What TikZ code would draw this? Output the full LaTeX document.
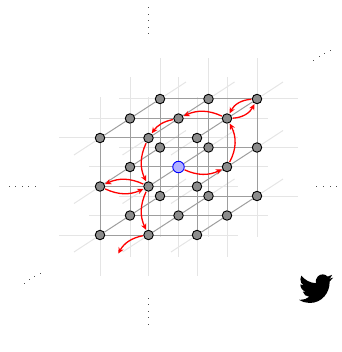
\documentclass[tikz,border=0pt]{standalone}
\usetikzlibrary{arrows.meta,backgrounds,calc,svg.path}
\tikzset{
  x=1pt,y=-1pt,
  site/.style={circle,draw=black,fill=black!45,line width=0.9pt,minimum size=9.5pt,inner sep=0pt},
  centre/.style={circle,draw=blue,fill=blue!30!white,line width=0.9pt,minimum size=11.5pt,inner sep=0pt},
  bond/.style={draw=black!38,line width=1pt},
  stub/.style={draw=black!10,line width=1pt},
  hop/.style={draw=red,line width=1.3pt,-{Stealth[length=6pt,width=5.5pt]},shorten >=0.5pt,shorten <=0.5pt},
  speck/.style={fill=black!70,inner sep=0pt,minimum size=0.9pt,rectangle},
}
\begin{document}
\begin{tikzpicture}
\useasboundingbox (0,0) rectangle (341,352);
% lattice sites: i along x, j along height, k along depth
\foreach \i in {0,1,2}{\foreach \j in {0,1,2}{\foreach \k in {0,1,2}{
  \pgfmathsetmacro\px{100+48.5*\i+30*\k}
  \pgfmathsetmacro\py{235-48.5*\j-19.5*\k}
  \ifnum\i\j\k=111
    \node[centre] (n\i\j\k) at (\px,\py) {};
  \else
    \node[site] (n\i\j\k) at (\px,\py) {};
  \fi
}}}
\begin{pgfonlayer}{background}
\foreach \a in {0,1,2}{\foreach \b in {0,1,2}{
  % along x
  \draw[stub] ($(n0\a\b)+(-41,0)$) -- (n0\a\b);
  \draw[stub] ($(n2\a\b)+(41,0)$) -- (n2\a\b);
  % along height
  \draw[stub] ($(n\a0\b)+(0,41)$) -- (n\a0\b);
  \draw[stub] ($(n\a2\b)+(0,-41)$) -- (n\a2\b);
  % along depth
  \draw[stub] ($(n\a\b0)+(-26,17)$) -- (n\a\b0);
  \draw[stub] ($(n\a\b2)+(26,-17)$) -- (n\a\b2);
}}
\foreach \a in {0,1,2}{\foreach \b in {0,1,2}{
  \draw[bond] (n0\a\b) -- (n2\a\b);
  \draw[bond] (n\a0\b) -- (n\a2\b);
  \draw[bond] (n\a\b0) -- (n\a\b2);
}}
\end{pgfonlayer}
% free end of the last hop
\coordinate (free) at (118,254);
\draw[hop] (n121) to[bend right=22] (n120);
\draw[hop] (n120) to[bend right=25] (n110);
\draw[hop] (n110) to[bend right=25] (n010);
\draw[hop] (n010) to[bend right=25] (n110);
\draw[hop] (n110) to[bend right=25] (n100);
\draw[hop] (n100) to[bend right=25] (free);
\draw[hop] (n111) to[bend right=25] (n211);
\draw[hop] (n211) to[bend right=28] (n221);
\draw[hop] (n221) to[bend right=30] (n222);
\draw[hop] (n222) to[bend right=30] (n221);
\draw[hop] (n221) to[bend right=25] (n121);
% ellipsis marks
\foreach \t in {7.7,14.3,20.7,27,33.3}{\node[speck] at (148.5,\t) {};}
\foreach \t in {298.3,304.7,311,317.7,324}{\node[speck] at (148.5,\t) {};}
\foreach \t in {9.7,15.7,22.3,28.7,35}{\node[speck] at (\t,186) {};}
\foreach \t in {316.7,323.3,330,336.3}{\node[speck] at (\t,186) {};}
\foreach \u/\v in {313.5/60,319/56.5,324.5/53.5,330/50}{\node[speck] at (\u,\v) {};}
\foreach \u/\v in {24/283,29/279.7,34.3/276.3,40/273}{\node[speck] at (\u,\v) {};}
% bird
\begin{scope}[shift={(299,271)},xscale=1.42,yscale=-1.47]
\fill[black] svg {M 23.953 4.57 C 23.05 4.97 22.09 5.23 21.128 5.345 C 22.14 4.74 22.92 3.78 23.291 2.622 C 22.34 3.177 21.286 3.581 20.164 3.806 C 18.34 1.86 15.28 1.77 13.34 3.59 C 12.08 4.77 11.54 6.53 11.78 8.288 C 7.69 8.095 4.067 6.13 1.64 3.162 C 1.2 3.91 0.974 4.76 0.974 5.637 C 0.974 7.347 1.844 8.85 3.162 9.733 C 2.38 9.71 1.62 9.49 0.934 9.117 L 0.934 9.177 C 0.94 11.52 2.59 13.54 4.88 14.004 C 4.15 14.2 3.4 14.23 2.668 14.089 C 3.31 16.09 5.16 17.46 7.272 17.506 C 5.53 18.87 3.38 19.61 1.17 19.611 C 0.78 19.611 0.391 19.588 0 19.544 C 2.26 20.99 4.89 21.76 7.557 21.753 C 16.61 21.753 21.555 14.257 21.555 7.768 C 21.555 7.558 21.555 7.348 21.54 7.138 C 22.5 6.44 23.34 5.58 24 4.59 Z};
\end{scope}
\end{tikzpicture}
\end{document}
